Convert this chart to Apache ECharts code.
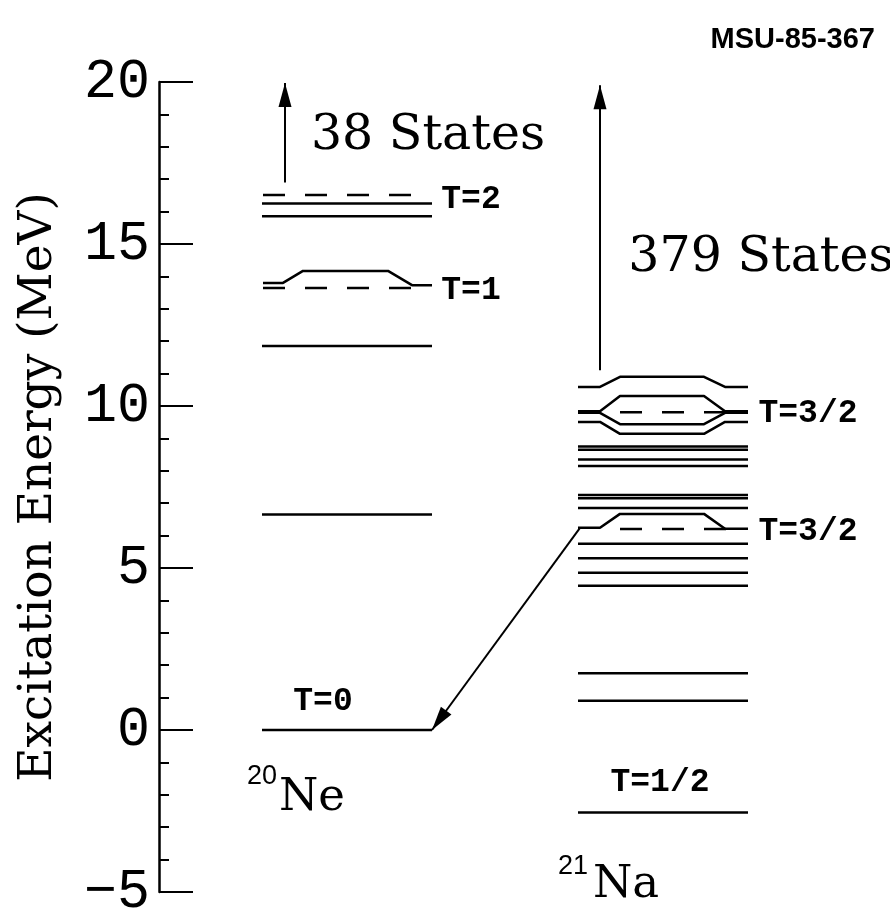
<!DOCTYPE html>
<html>
<head>
<meta charset="utf-8">
<script src="https://cdn.jsdelivr.net/npm/echarts@6/dist/echarts.min.js"></script>
<style>
html, body { margin: 0; padding: 0; background: #fff; }
#main { width: 890px; height: 910px; }
</style>
</head>
<body>
<div id="main"></div>
<script>
// level energies (MeV)
var neLevels = [0, 6.65, 11.85, 15.86, 16.25];
var neDashed = [13.64, 16.51];
var neMixed = [[13.80, 14.17, 13.73]];           // [left, middle, right]
var naLevels = [-2.55, 0.90, 1.75, 4.45, 4.85, 5.30, 5.75, 6.85, 7.15, 7.25, 8.15, 8.35, 8.65, 8.75];
var naDashed = [6.20, 9.81];
var naMixed = [[6.24, 6.67, 6.21], [9.51, 9.14, 9.51], [9.79, 9.44, 9.79], [9.84, 10.31, 9.84], [10.59, 10.90, 10.59]];

// horizontal columns (x offsets from the energy axis)
var neSpan = [103, 273];
var naSpan = [419, 589];
var neBreaks = [104, 124, 144, 229, 253, 273];
var naBreaks = [419, 441, 461, 545, 566, 589];
var neDashSpan = [104, 254];
var naDashSpan = [461, 568];

// arrows [x1, e1, x2, e2]
var arrows = [
	[126, 16.9, 126, 19.97],
	[441, 11.1, 441, 19.9],
	[421, 6.24, 273, 0]
];

// annotations
var bigText = [['38 States', 269, 18.32], ['379 States', 602, 14.57]];
var isoText = [['T=2', 312, 16.37], ['T=1', 312, 13.55], ['T=3/2', 649, 9.77], ['T=3/2', 649, 6.11], ['T=1/2', 501, -1.64], ['T=0', 164, 0.86]];
var nucText = [['Ne', 153, -2.10], ['Na', 467, -4.78]];
var massText = [['20', 103, -1.45], ['21', 414, -4.22]];

var yTicks = [-5, 0, 5, 10, 15, 20];

var series = [];

function addLine(points, dashed) {
	series.push({
		type: 'line',
		data: points,
		symbol: 'none',
		silent: true,
		animation: false,
		lineStyle: {
			color: '#000',
			width: 2.5,
			type: dashed ? [22, 20] : 'solid',
			cap: 'butt'
		}
	});
}

function mixedPoints(b, m) {
	return [[b[0], m[0]], [b[1], m[0]], [b[2], m[1]], [b[3], m[1]], [b[4], m[2]], [b[5], m[2]]];
}

for (var i = 0; i < neLevels.length; i++) {
	addLine([[neSpan[0], neLevels[i]], [neSpan[1], neLevels[i]]], false);
}
for (var i = 0; i < neDashed.length; i++) {
	addLine([[neDashSpan[0], neDashed[i]], [neDashSpan[1], neDashed[i]]], true);
}
for (var i = 0; i < neMixed.length; i++) {
	addLine(mixedPoints(neBreaks, neMixed[i]), false);
}
for (var i = 0; i < naLevels.length; i++) {
	addLine([[naSpan[0], naLevels[i]], [naSpan[1], naLevels[i]]], false);
}
for (var i = 0; i < naDashed.length; i++) {
	addLine([[naDashSpan[0], naDashed[i]], [naDashSpan[1], naDashed[i]]], true);
}
for (var i = 0; i < naMixed.length; i++) {
	addLine(mixedPoints(naBreaks, naMixed[i]), false);
}

// arrows
var arrowData = [];
for (var i = 0; i < arrows.length; i++) {
	arrowData.push([{ coord: [arrows[i][0], arrows[i][1]] }, { coord: [arrows[i][2], arrows[i][3]] }]);
}
series.push({
	type: 'line',
	data: [],
	silent: true,
	animation: false,
	markLine: {
		silent: true,
		animation: false,
		symbol: ['none', 'triangle'],
		symbolSize: [13, 24],
		symbolOffset: [0, [0, 12]],
		label: { show: false },
		lineStyle: { color: '#000', width: 2, type: 'solid', opacity: 1 },
		emphasis: { disabled: true },
		data: arrowData
	}
});

function addText(list, font, size, weight) {
	series.push({
		type: 'scatter',
		symbolSize: 0,
		silent: true,
		animation: false,
		itemStyle: { opacity: 1 },
		data: list.map(function(t) { return { name: t[0], value: [t[1], t[2]] }; }),
		label: {
			show: true,
			position: 'inside',
			formatter: '{b}',
			color: '#000',
			opacity: 1,
			textBorderWidth: 0,
			fontFamily: font,
			fontSize: size,
			fontWeight: weight || 'normal'
		}
	});
}
addText(bigText, 'DejaVu Serif', 49);
addText(isoText, 'Liberation Mono', 33, 'bold');
addText(nucText, 'DejaVu Serif', 45);
addText(massText, 'Liberation Sans', 27);

var option = {
	backgroundColor: '#fff',
	animation: false,
	title: {
		text: 'MSU-85-367',
		right: 10,
		top: 20,
		textStyle: { fontFamily: 'Liberation Sans', fontWeight: 'bold', fontSize: 29, color: '#000' }
	},
	grid: { left: 159, right: 31, top: 82, bottom: 18, containLabel: false, outerBoundsMode: 'none' },
	xAxis: { type: 'value', min: 0, max: 700, show: false },
	yAxis: {
		type: 'value',
		min: yTicks[0],
		max: yTicks[yTicks.length - 1],
		interval: 5,
		name: 'Excitation Energy (MeV)',
		nameLocation: 'middle',
		nameGap: 97,
		nameMoveOverlap: false,
		nameTextStyle: { fontFamily: 'DejaVu Serif', fontSize: 47, color: '#000' },
		axisLine: { show: true, lineStyle: { color: '#000', width: 2.5 } },
		axisTick: { show: true, inside: true, length: 34, lineStyle: { color: '#000', width: 2 } },
		minorTick: { show: true, splitNumber: 5, length: 10, lineStyle: { color: '#000', width: 2 } },
		splitLine: { show: false },
		axisLabel: {
			fontFamily: 'Liberation Mono',
			fontSize: 55,
			color: '#000',
			margin: 9,
			formatter: function(v) { return String(v).replace('-', '\u2212'); }
		}
	},
	series: series
};

var chart = echarts.init(document.getElementById('main'));
chart.setOption(option);
</script>
</body>
</html>
